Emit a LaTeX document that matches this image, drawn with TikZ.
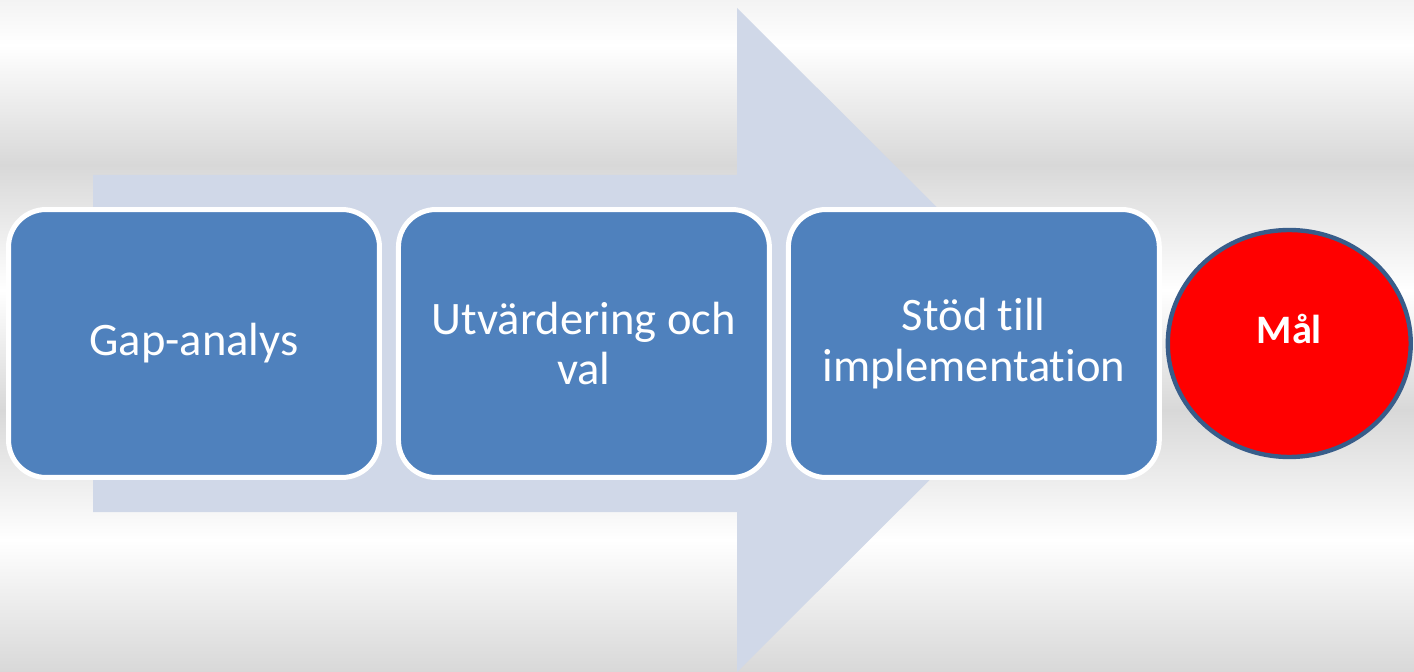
\documentclass[tikz,border=0pt]{standalone}
\usepackage{fontspec}
\setmainfont[Ligatures=NoCommon]{Carlito}
\usetikzlibrary{positioning, shapes.geometric}

\definecolor{boxblue}{HTML}{4F81BD}
\definecolor{arrowblue}{HTML}{D0D8E8}
\definecolor{goalrim}{HTML}{385D8A}
\definecolor{bgwhite}{HTML}{FFFFFF}
\definecolor{bggray}{HTML}{D8D8D8}
\definecolor{bgtop}{HTML}{F3F3F3}

\begin{document}
\begin{tikzpicture}[x=0.02cm, y=-0.02cm, node distance=0.38cm, b/.style={rectangle, rounded corners=0.75cm, draw=white, line width=2.85pt, fill=boxblue, text=white, minimum width=7.42cm, minimum height=5.36cm, outer sep=0pt, align=center, font=\fontsize{26.5}{29}\selectfont}, g/.style={ellipse, draw=goalrim, line width=2.5pt, fill=red, minimum width=4.86cm, minimum height=4.54cm, outer sep=0pt}, t/.style={text=white, font=\fontsize{23}{27}\selectfont\bfseries}]
		\useasboundingbox (0,0) rectangle (1414,672);
		\foreach \ya/\yb/\ca/\cb in {0/45/bgtop/bgwhite, 45/165/bgwhite/bggray, 165/290/bggray/bgwhite, 290/410/bgwhite/bggray, 410/540/bggray/bgwhite, 540/672/bgwhite/bggray}
			\shade[top color=\ca, bottom color=\cb] (0,\ya-0.5) rectangle (1414,\yb+0.5);

		\fill[arrowblue] (93,175) -- (737,175) -- (737,8) -- (1070,340) -- (737,672) -- (737,512) -- (93,512) -- cycle;

		\node[b] (gap) at (194,343.5) {Gap-analys};
		\node[b, right=of gap] (val) {Utvärdering och\\val};
		\node[b, right=of val] (impl) {Stöd till\\implementation};
		\node[g, right=0.17cm of impl] (mal) {};
		\node[t] (mal_label) at ([yshift=0.28cm]mal.center) {Mål};
	\end{tikzpicture}
\end{document}
